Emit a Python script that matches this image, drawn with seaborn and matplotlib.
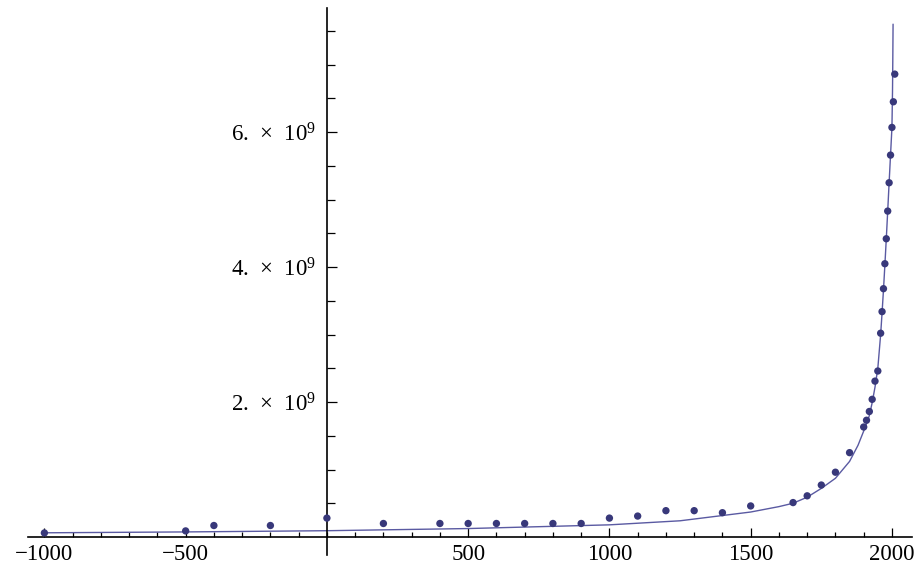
import numpy as np
import pandas as pd
import matplotlib
matplotlib.use("Agg")
import matplotlib.pyplot as plt
import seaborn as sns
from matplotlib.ticker import FixedLocator

# world population data points (year, billions)
years = [-1000, -500, -400, -200, 0, 200, 400, 500, 600, 700, 800, 900,
         1000, 1100, 1200, 1300, 1400, 1500, 1650, 1700, 1750, 1800, 1850,
         1900, 1910, 1920, 1930, 1940, 1950, 1960, 1965, 1970, 1975, 1980,
         1985, 1990, 1995, 2000, 2005, 2010]
pop = [0.06, 0.09, 0.17, 0.17, 0.28, 0.20, 0.20, 0.20, 0.20, 0.20, 0.20, 0.20,
       0.28, 0.31, 0.39, 0.39, 0.36, 0.46, 0.51, 0.61, 0.77, 0.96, 1.25,
       1.63, 1.73, 1.86, 2.04, 2.31, 2.46, 3.02, 3.34, 3.68, 4.05, 4.42,
       4.83, 5.25, 5.66, 6.07, 6.45, 6.86]

# fitted curve
fit_years = [-1000, -500, 0, 500, 1000, 1250, 1500, 1600, 1650, 1700, 1750,
             1800, 1850, 1880, 1900, 1910, 1920, 1930, 1940, 1950, 1960,
             1965, 1970, 1975, 1980, 1985, 1990, 1995, 2000, 2002, 2003, 2004]
fit_pop = [0.062, 0.075, 0.093, 0.125, 0.18, 0.24, 0.37, 0.45, 0.50, 0.59, 0.72,
           0.87, 1.12, 1.36, 1.57, 1.68, 1.80, 1.99, 2.22, 2.50, 3.00,
           3.32, 3.66, 4.03, 4.42, 4.83, 5.25, 5.66, 6.07, 6.60, 7.05, 7.60]

xticks_major = [-1000, -500, 500, 1000, 1500, 2000]
xtick_labels = ["\u22121000", "\u2212500", "500", "1000", "1500", "2000"]
yticks_major = [2, 4, 6]
ytick_labels = ["2.  \u00d7  10$^{9}$", "4.  \u00d7  10$^{9}$", "6.  \u00d7  10$^{9}$"]

sns.set_style("white")
plt.rcParams["font.family"] = ["Liberation Serif", "DejaVu Serif"]
plt.rcParams["mathtext.fontset"] = "custom"
plt.rcParams["mathtext.rm"] = "Liberation Serif"
plt.rcParams["mathtext.it"] = "Liberation Serif"

df = pd.DataFrame({"year": years, "pop": pop})
fit = pd.DataFrame({"year": fit_years, "pop": fit_pop})

fig = plt.figure(figsize=(9.15, 5.71), dpi=100)
ax = fig.add_axes([28 / 915, 16 / 571, 884 / 915, 547 / 571])

sns.lineplot(data=fit, x="year", y="pop", ax=ax, color="#5a5aa2", linewidth=1.0,
             sort=False)
sns.scatterplot(data=df, x="year", y="pop", ax=ax, color="#38387a", s=28,
                edgecolor="none", zorder=3)

ax.set_xlim(-1058, 2071)
ax.set_ylim(-0.267, 7.84)

for s in ["top", "right"]:
    ax.spines[s].set_visible(False)
ax.spines["left"].set_position(("data", 0))
ax.spines["bottom"].set_position(("data", 0))
for s in ["left", "bottom"]:
    ax.spines[s].set_color("black")
    ax.spines[s].set_linewidth(1.2)

ax.xaxis.set_major_locator(FixedLocator(xticks_major))
ax.xaxis.set_minor_locator(FixedLocator(list(range(-1000, 2001, 100))))
ax.set_xticklabels(xtick_labels)
ax.yaxis.set_major_locator(FixedLocator(yticks_major))
ax.yaxis.set_minor_locator(FixedLocator([0.5, 1, 1.5, 2.5, 3, 3.5, 4.5, 5, 5.5, 6.5, 7, 7.5]))
ax.set_yticklabels(ytick_labels)

ax.tick_params(which="both", bottom=True, left=True, top=False, right=False)
ax.tick_params(axis="x", which="major", direction="in", length=6.5, width=0.9,
               pad=5, labelsize=16.5, colors="black")
ax.tick_params(axis="x", which="minor", direction="in", length=3.6, width=0.9,
               colors="black")
ax.tick_params(axis="y", which="major", direction="in", length=7.2, width=0.9,
               pad=8, labelsize=16.5, colors="black")
ax.tick_params(axis="y", which="minor", direction="in", length=5.8, width=0.9,
               colors="black")

ax.set_xlabel("")
ax.set_ylabel("")
ax.grid(False)

fig.savefig("out.png", dpi=100)
